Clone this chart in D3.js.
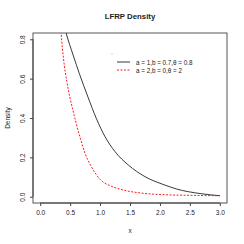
<!DOCTYPE html>
<html>
<head>
<meta charset="utf-8">
<script src="https://cdn.jsdelivr.net/npm/d3@7"></script>
<style>
body{margin:0;background:#fff;}
text{font-family:"Liberation Sans",Arial,sans-serif;fill:#222;}
</style>
</head>
<body>
<div id="chart"></div>
<script>
// curve values
var xs_black = [0.40, 0.433, 0.55, 0.655, 0.8, 0.94, 1.083, 1.25, 1.472, 1.75, 2.083, 2.28, 2.67, 3.0];
var ys_black = [0.87, 0.832, 0.72, 0.625, 0.505, 0.396, 0.305, 0.229, 0.161, 0.102, 0.059, 0.039, 0.016, 0.005];
var xs_red = [0.33, 0.35, 0.39, 0.445, 0.5, 0.55, 0.6, 0.667, 0.75, 0.85, 1.0, 1.2, 1.388, 1.7, 2.0, 2.5, 3.0];
var ys_red = [0.93, 0.832, 0.70, 0.585, 0.50, 0.435, 0.375, 0.30, 0.22, 0.155, 0.088, 0.052, 0.034, 0.018, 0.011, 0.007, 0.005];
var xTicks = [0, 0.5, 1, 1.5, 2, 2.5, 3];
var yTicks = [0, 0.2, 0.4, 0.6, 0.8];
var legendLabels = ["a = 1,b = 0.7,\u03b8 = 0.8", "a = 2,b = 0,\u03b8 = 2"];
var legendColors = ["#222", "#ff0000"];

var width = 244, height = 244;
var box = {left:33, right:227, top:33, bottom:203};

var svg = d3.select("#chart").append("svg")
	.attr("width", width)
	.attr("height", height);

// R style 4% padding round the data range
var xScale = d3.scaleLinear().domain([-0.12, 3.12]).range([box.left, box.right]);
var yScale = d3.scaleLinear().domain([-0.032, 0.832]).range([box.bottom, box.top]);

svg.append("defs").append("clipPath").attr("id","plotclip")
	.append("rect")
	.attr("x", box.left).attr("y", box.top)
	.attr("width", box.right - box.left).attr("height", box.bottom - box.top);

var line = d3.line()
	.x(function(d){return xScale(d[0]);})
	.y(function(d){return yScale(d[1]);})
	.curve(d3.curveMonotoneX);

var blackData = xs_black.map(function(x,i){return [x, ys_black[i]];});
var redData = xs_red.map(function(x,i){return [x, ys_red[i]];});

var plot_g = svg.append("g").attr("clip-path","url(#plotclip)");

plot_g.append("path")
	.attr("d", line(blackData))
	.attr("fill","none")
	.attr("stroke","#222")
	.attr("stroke-width",0.9);

plot_g.append("path")
	.attr("d", line(redData))
	.attr("fill","none")
	.attr("stroke","#ff0000")
	.attr("stroke-width",0.9)
	.attr("stroke-dasharray","2,1.5");

// box
svg.append("rect")
	.attr("x", box.left).attr("y", box.top)
	.attr("width", box.right - box.left).attr("height", box.bottom - box.top)
	.attr("fill","none")
	.attr("stroke","#444")
	.attr("stroke-width",0.9);

// x axis
var axis_x = d3.axisBottom(xScale)
	.tickValues(xTicks)
	.tickSize(3)
	.tickPadding(4)
	.tickFormat(d3.format(".1f"));

var gx = svg.append("g")
	.attr("transform","translate(0," + box.bottom + ")")
	.call(axis_x);
gx.select(".domain").attr("d","M" + xScale(0) + ",0H" + xScale(3)).attr("stroke","#444");
gx.selectAll(".tick line").attr("stroke","#444");
gx.selectAll("text").attr("font-size",6.5).attr("fill","#222")
	.attr("font-family","Liberation Sans, Arial, sans-serif");

// y axis, rotated labels
var axis_y = d3.axisLeft(yScale)
	.tickValues(yTicks)
	.tickSize(3)
	.tickFormat(d3.format(".1f"));

var gy = svg.append("g")
	.attr("transform","translate(" + box.left + ",0)")
	.call(axis_y);
gy.select(".domain").attr("d","M0," + yScale(0) + "V" + yScale(0.8)).attr("stroke","#444");
gy.selectAll(".tick line").attr("stroke","#444");
gy.selectAll("text")
	.attr("font-size",6.5).attr("fill","#222")
	.attr("font-family","Liberation Sans, Arial, sans-serif")
	.attr("x",0).attr("dy",null)
	.attr("text-anchor","middle")
	.attr("transform","translate(-11,0) rotate(-90)")
	.attr("dominant-baseline","central");

// title and labels
svg.append("text")
	.attr("x",(box.left + box.right)/2)
	.attr("y",19)
	.attr("text-anchor","middle")
	.attr("font-size",7.8)
	.attr("font-weight","bold")
	.text("LFRP Density");

svg.append("text")
	.attr("x",(box.left + box.right)/2)
	.attr("y",233)
	.attr("text-anchor","middle")
	.attr("font-size",6.5)
	.text("x");

svg.append("text")
	.attr("transform","translate(10," + (box.top + box.bottom)/2 + ") rotate(-90)")
	.attr("text-anchor","middle")
	.attr("font-size",6.5)
	.text("Density");

// legend
var legend_g = svg.append("g");
legend_g.append("circle")
	.attr("cx",112).attr("cy",54).attr("r",0.5)
	.attr("fill","#999");

legendLabels.forEach(function(lab,i){
	var ly = 62 + i*8;
	legend_g.append("line")
		.attr("x1",117).attr("x2",130)
		.attr("y1",ly).attr("y2",ly)
		.attr("stroke",legendColors[i])
		.attr("stroke-width",0.9)
		.attr("stroke-dasharray", i==1 ? "2,1.5" : null);
	legend_g.append("text")
		.attr("x",136).attr("y",ly)
		.attr("dominant-baseline","central")
		.attr("font-size",6.3)
		.text(lab);
});
</script>
</body>
</html>
